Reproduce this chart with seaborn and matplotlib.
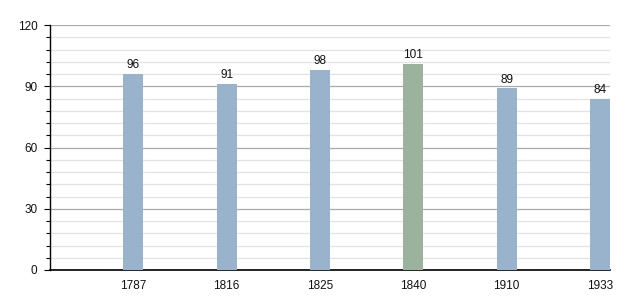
import matplotlib
matplotlib.use("Agg")
import matplotlib.pyplot as plt
import seaborn as sns
import pandas as pd
import numpy as np
from matplotlib.ticker import MultipleLocator

years = ["1787", "1816", "1825", "1840", "1910", "1933"]
values = [96, 91, 98, 101, 89, 84]
highlight = "1840"

blue = "#99b3cd"
green = "#9bb39c"

sns.set_theme(style="white")
plt.rcParams['font.family'] = ['Liberation Sans', 'DejaVu Sans']

df = pd.DataFrame({"year": years, "value": values})
palette = {y: (green if y == highlight else blue) for y in years}

fig = plt.figure(figsize=(6.3, 3.0), dpi=100)
ax = fig.add_axes([50/630, 30/300, 560/630, 245/300])

bw = 20/93.33
sns.barplot(data=df, x="year", y="value", hue="year", palette=palette,
            width=bw, saturation=1, legend=False, ax=ax, zorder=3,
            linewidth=0, edgecolor="none")

ax.set_xlim(-1 + bw/2, 5 + bw/2)
ax.set_ylim(0, 120)
ax.yaxis.set_major_locator(MultipleLocator(30))
ax.yaxis.set_minor_locator(MultipleLocator(6))
ax.grid(which="major", axis="y", color="#aaaaaa", linewidth=0.9, zorder=0)
ax.grid(which="minor", axis="y", color="#e2e2e2", linewidth=0.9, zorder=0)
ax.set_axisbelow(True)

for s in ["top", "right"]:
    ax.spines[s].set_visible(False)
ax.spines["left"].set_color("black")
ax.spines["bottom"].set_color("black")
ax.spines["left"].set_linewidth(1)
ax.spines["bottom"].set_linewidth(1.2)

ax.tick_params(axis="y", which="major", left=True, length=4, width=0.8, color="black",
               labelsize=8.5, pad=5, labelcolor="#111111")
ax.tick_params(axis="y", which="minor", left=True, length=3, width=0.8, color="black")
ax.tick_params(axis="x", bottom=False, labelsize=8.5, pad=1, labelcolor="#111111")
ax.set_xlabel("")
ax.set_ylabel("")

for i, v in enumerate(values):
    ax.annotate(str(v), (i, v), xytext=(0, 2), textcoords="offset points",
                ha="center", va="bottom", fontsize=8.5, color="#111111")

fig.savefig("out.png", dpi=100)
